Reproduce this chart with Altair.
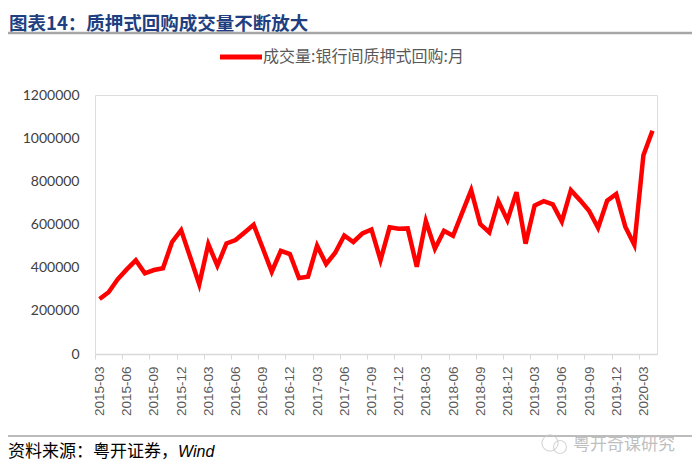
import altair as alt
import pandas as pd

# ---- data ----
months = [f"{y}-{m:02d}" for y in range(2015, 2021) for m in range(1, 13)]
months = months[months.index("2015-03"):months.index("2020-04") + 1]

volume = [
    255000, 286000, 346000, 392000, 434000, 374000, 389000, 397000, 519000, 574000,
    449000, 323000, 509000, 409000, 512000, 528000, 563000, 599000, 491000, 381000, 478000, 463000,
    352000, 358000, 502000, 417000, 469000, 549000, 519000, 559000, 577000, 435000, 587000, 580000,
    582000, 404000, 616000, 488000, 571000, 548000, 654000, 759000, 602000, 563000, 708000, 620000,
    750000, 511000, 688000, 708000, 693000, 614000, 759000, 713000, 664000, 585000, 710000, 741000,
    590000, 506000, 921000, 1034000,
]
tick_labels = months[::3]
y_ticks = [0, 200000, 400000, 600000, 800000, 1000000, 1200000]

series_name = "成交量:银行间质押式回购:月"
title_text = "图表14：质押式回购成交量不断放大"
source_text = "资料来源：粤开证券，"
source_wind = "Wind"
watermark = "粤开奇谋研究"

df = pd.DataFrame({"month": months, "value": volume})
dummy = pd.DataFrame({"k": [0]})

W, H = 562, 259
step = W / len(months)

line = alt.Chart(df).mark_line(color="#FF0000", strokeWidth=4.5, strokeJoin="miter").encode(
    x=alt.X(
        "month:O",
        sort=months,
        scale=alt.Scale(type="point", padding=0.5),
        axis=alt.Axis(
            title=None,
            values=tick_labels,
            labelAngle=-90,
            labelFont="Liberation Sans",
            labelFontSize=13.5,
            labelColor="#595959",
            labelPadding=7,
            tickOffset=-step / 2,
            labelOffset=step / 2,
            tickSize=5,
            tickColor="#D9D9D9",
            domainColor="#D9D9D9",
            domainWidth=1.5,
            grid=False,
        ),
    ),
    y=alt.Y(
        "value:Q",
        scale=alt.Scale(domain=[0, 1200000], nice=False),
        axis=alt.Axis(
            title=None,
            values=y_ticks,
            format="d",
            domain=False,
            ticks=False,
            grid=False,
            labelFont="Lato",
            labelFontSize=14,
            labelColor="#404040",
            labelPadding=16,
        ),
    ),
)

base = alt.Chart(dummy)

title = base.mark_text(
    align="left", baseline="middle", font="Noto Sans CJK SC", fontSize=18.5,
    fontWeight="bold", color="#1F3F80",
).encode(x=alt.value(-86), y=alt.value(-71.5), text=alt.value(title_text))

title_rule = base.mark_rule(color="#A6A6A6", strokeWidth=2.5).encode(
    x=alt.value(-88), x2=alt.value(600), y=alt.value(-62)
)

legend_line = base.mark_rule(color="#FF0000", strokeWidth=5).encode(
    x=alt.value(125), x2=alt.value(167), y=alt.value(-38)
)
legend_text = base.mark_text(
    align="left", baseline="middle", font="Noto Sans CJK SC", fontSize=16, color="#595959",
).encode(x=alt.value(168), y=alt.value(-38), text=alt.value(series_name))

footer_rule = base.mark_rule(color="#A6A6A6", strokeWidth=1.5).encode(
    x=alt.value(-88), x2=alt.value(598), y=alt.value(341)
)
footer_text = base.mark_text(
    align="left", baseline="middle", font="Noto Sans CJK SC", fontSize=17, color="#000000",
).encode(x=alt.value(-87), y=alt.value(357), text=alt.value(source_text))
footer_wind = base.mark_text(
    align="left", baseline="middle", font="Liberation Sans", fontSize=16, fontStyle="italic",
    color="#000000",
).encode(x=alt.value(83), y=alt.value(357), text=alt.value(source_wind))

wm_c1 = base.mark_point(shape="circle", filled=False, color="#C8C8C8", size=260, strokeWidth=1.2).encode(
    x=alt.value(455), y=alt.value(348)
)
wm_c2 = base.mark_point(shape="circle", filled=False, color="#C8C8C8", size=170, strokeWidth=1.2).encode(
    x=alt.value(465), y=alt.value(352)
)
wm_text = base.mark_text(
    align="left", baseline="middle", font="Noto Sans CJK SC", fontSize=17, color="#BFBFBF",
).encode(x=alt.value(478), y=alt.value(350), text=alt.value(watermark))

chart = alt.layer(
    line, title, title_rule, legend_line, legend_text, footer_rule, footer_text, footer_wind,
    wm_c1, wm_c2, wm_text,
).properties(
    width=W, height=H,
    autosize=alt.AutoSizeParams(type="none"),
    padding={"left": 87, "top": 87, "right": 35, "bottom": 110},
).configure_view(stroke=None).configure(background="white")

chart.save("out.html", embed_options={"renderer": "svg", "actions": False})
